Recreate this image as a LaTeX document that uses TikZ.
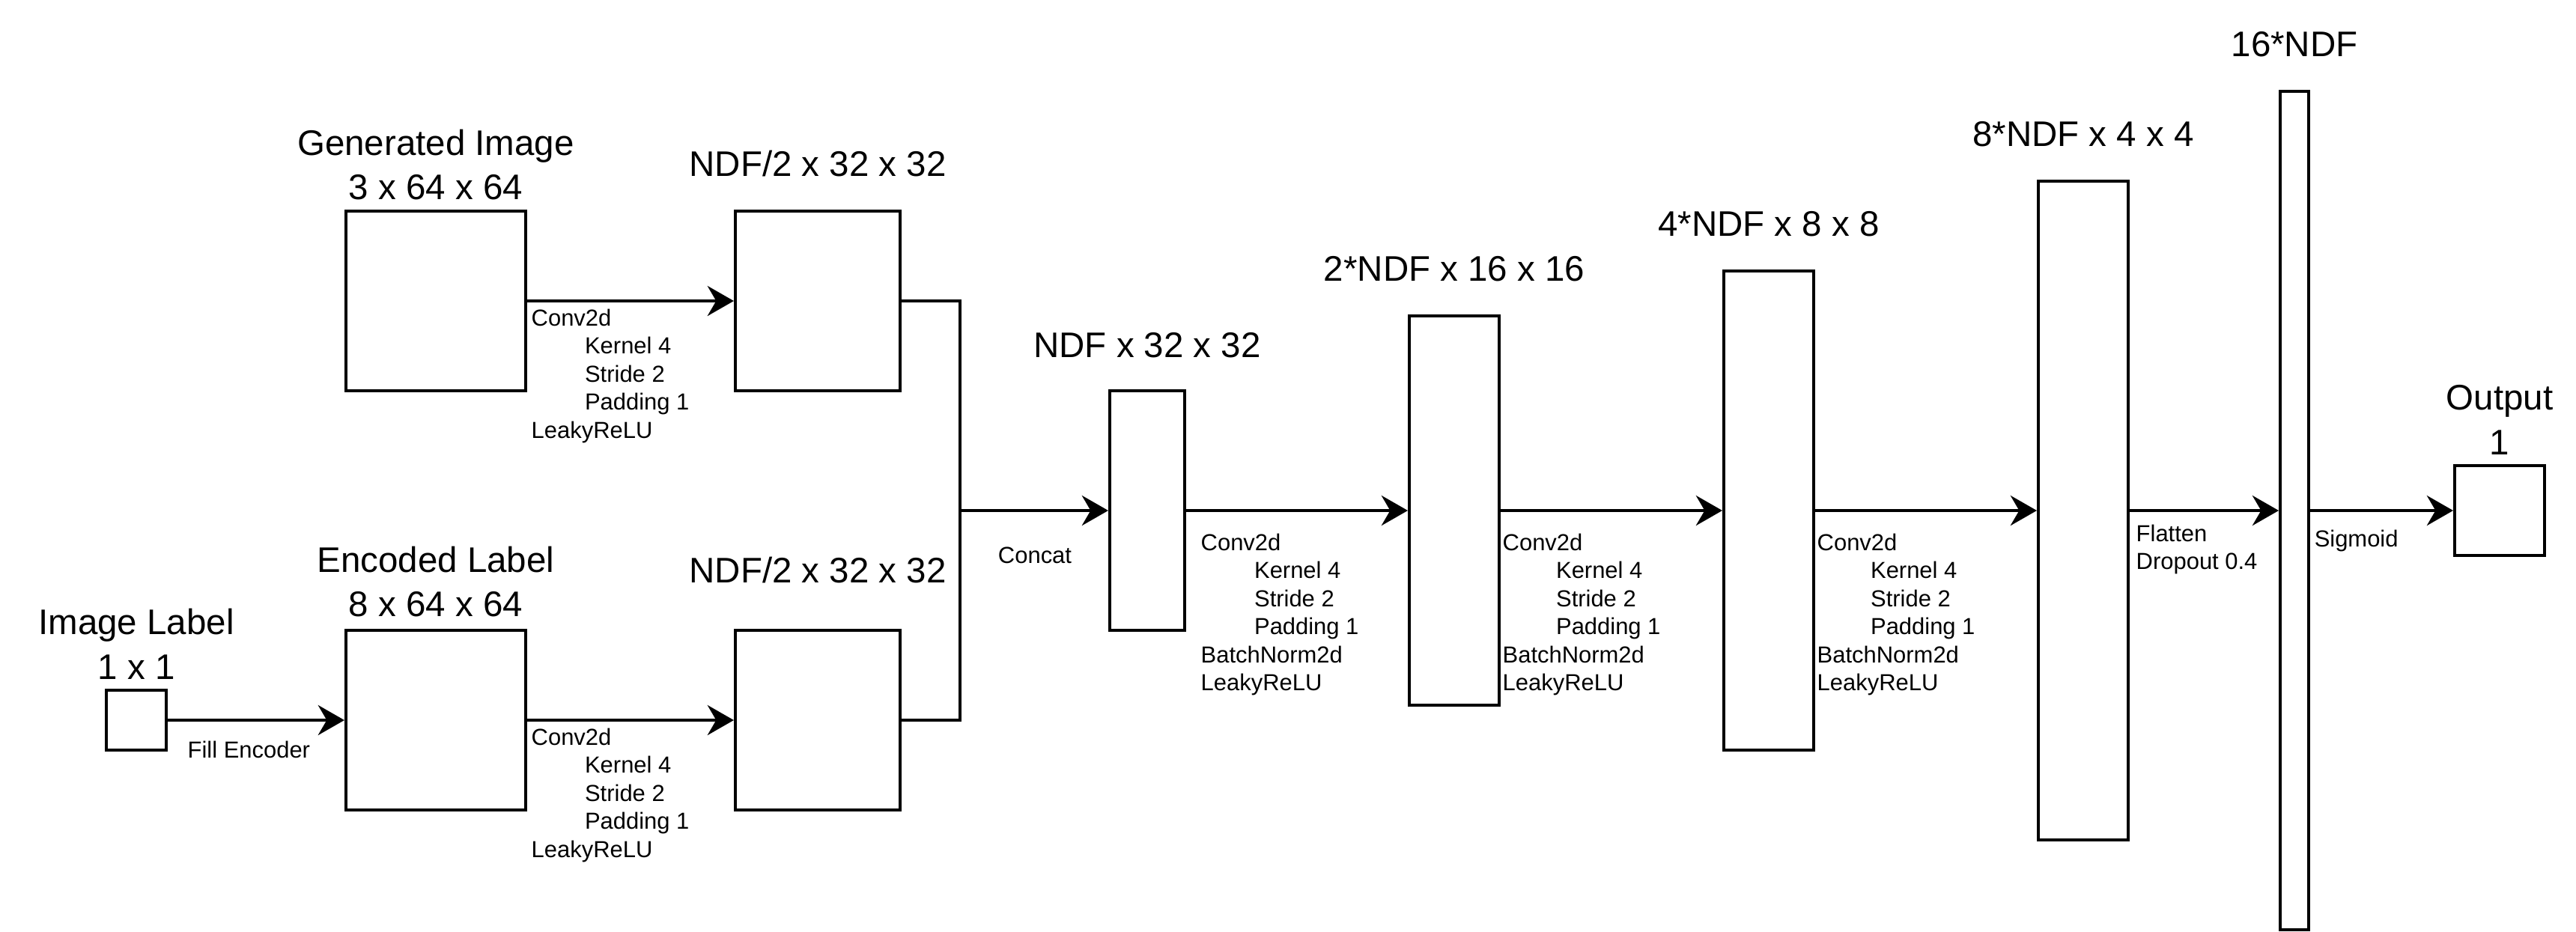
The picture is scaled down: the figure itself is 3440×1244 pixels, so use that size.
\documentclass[tikz,border=0pt]{standalone}
\usepackage{fontspec}
\setmainfont{Liberation Sans}
\usetikzlibrary{arrows.meta}

\newcommand{\bigf}{\fontsize{13.5}{17}\selectfont}
\newcommand{\smf}{\fontsize{8.8}{10.67}\selectfont}
\newcommand{\ind}{\hspace*{20.3pt}}

\begin{document}
\begin{tikzpicture}[x=0.01cm,y=-0.01cm,>={Stealth[length=10pt,width=11.4pt,inset=3.3pt]},
		box/.style={draw,line width=1.14pt,inner sep=0pt},
		ttl/.style={font=\bigf,align=center,inner sep=0pt},
		txt/.style={font=\smf,align=left,inner sep=0pt,anchor=north west},
		con/.style={line width=1.14pt}]
	\useasboundingbox (0,0) rectangle (3440,1244);
	% blocks
	\node[box,minimum width=0.8cm,minimum height=0.8cm] (lbl) at (182,962) {};
	\node[box,minimum width=2.4cm,minimum height=2.4cm] (gen) at (582,402) {};
	\node[box,minimum width=2.4cm,minimum height=2.4cm] (enc) at (582,962) {};
	\node[box,minimum width=2.2cm,minimum height=2.4cm] (ndfa) at (1092,402) {};
	\node[box,minimum width=2.2cm,minimum height=2.4cm] (ndfb) at (1092,962) {};
	\node[box,minimum width=1cm,minimum height=3.2cm] (cat) at (1532,682) {};
	\node[box,minimum width=1.2cm,minimum height=5.2cm] (d2) at (1942,682) {};
	\node[box,minimum width=1.2cm,minimum height=6.4cm] (d4) at (2362,682) {};
	\node[box,minimum width=1.2cm,minimum height=8.8cm] (d8) at (2782,682) {};
	\node[box,minimum width=0.38cm,minimum height=11.2cm] (d16) at (3064,682) {};
	\node[box,minimum width=1.2cm,minimum height=1.2cm] (out) at (3338,682) {};
	\coordinate (jn) at (1282,682);
	% sizes
	\node[ttl,anchor=south] (tlbl) at (182,908) {Image Label\\1 x 1};
	\node[ttl,anchor=south] (tgen) at (582,268) {Generated Image\\3 x 64 x 64};
	\node[ttl,anchor=south] (tenc) at (582,825) {Encoded Label\\8 x 64 x 64};
	\node[ttl,anchor=base] (tndfa) at (1092,235) {NDF/2 x 32 x 32};
	\node[ttl,anchor=base] (tndfb) at (1092,778) {NDF/2 x 32 x 32};
	\node[ttl,anchor=base] (tcat) at (1532,477) {NDF x 32 x 32};
	\node[ttl,anchor=base] (td2) at (1942,375) {2*NDF x 16 x 16};
	\node[ttl,anchor=base] (td4) at (2362,315) {4*NDF x 8 x 8};
	\node[ttl,anchor=base] (td8) at (2782,195) {8*NDF x 4 x 4};
	\node[ttl,anchor=base] (td16) at (3064,75) {16*NDF};
	\node[ttl,anchor=south] (tout) at (3338,608) {Output\\1};
	% layers
	\node[txt] (cva) at (709,412) {Conv2d\\\ind Kernel 4\\\ind Stride 2\\\ind Padding 1\\LeakyReLU};
	\node[txt] (cvb) at (709,972) {Conv2d\\\ind Kernel 4\\\ind Stride 2\\\ind Padding 1\\LeakyReLU};
	\node[txt] (cvc) at (1603,712) {Conv2d\\\ind Kernel 4\\\ind Stride 2\\\ind Padding 1\\BatchNorm2d\\LeakyReLU};
	\node[txt] (cvd) at (2006,712) {Conv2d\\\ind Kernel 4\\\ind Stride 2\\\ind Padding 1\\BatchNorm2d\\LeakyReLU};
	\node[txt] (cve) at (2426,712) {Conv2d\\\ind Kernel 4\\\ind Stride 2\\\ind Padding 1\\BatchNorm2d\\LeakyReLU};
	\node[txt] (fl) at (2852,700) {Flatten\\Dropout 0.4};
	\node[font=\smf,inner sep=0pt,anchor=base west] (sg) at (3090,730) {Sigmoid};
	\node[font=\smf,inner sep=0pt,anchor=base west] (fe) at (250,1012) {Fill Encoder};
	\node[font=\smf,inner sep=0pt,anchor=base] (cc) at (1382,752) {Concat};
	% arrows
	\draw[con,->] (lbl) -- (enc);
	\draw[con,->] (gen) -- (ndfa);
	\draw[con,->] (enc) -- (ndfb);
	\draw[con] (ndfa) -| (jn) |- (ndfb);
	\draw[con,->] (jn) -- (cat);
	\draw[con,->] (cat) -- (d2);
	\draw[con,->] (d2) -- (d4);
	\draw[con,->] (d4) -- (d8);
	\draw[con,->] (d8) -- (d16);
	\draw[con,->] (d16) -- (out);
\end{tikzpicture}
\end{document}
